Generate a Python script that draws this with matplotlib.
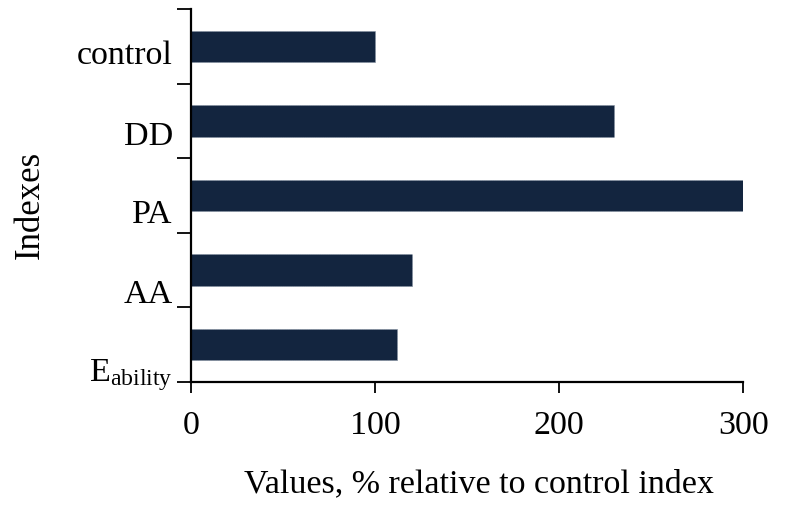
import matplotlib
matplotlib.use("Agg")
import matplotlib.pyplot as plt
import matplotlib.transforms as mtransforms
import numpy as np

# data (bottom to top)
categories = [r"E$_{\mathregular{ability}}$", "AA", "PA", "DD", "control"]
values = [112, 120, 300, 230, 100]
xticks = [0, 100, 200, 300]

# layout: downward shift of each category label in pixels (as in the original)
label_shift_px = [23, 20, 15, 11, 5]

plt.rcParams['font.family'] = ['Liberation Serif', 'DejaVu Serif']
plt.rcParams['mathtext.fontset'] = 'custom'
plt.rcParams['mathtext.rm'] = 'Liberation Serif'
plt.rcParams['mathtext.it'] = 'Liberation Serif:italic'

fig = plt.figure(figsize=(7.98, 5.10), dpi=100)
ax = fig.add_axes([191/798, 1-383/510, (743.3-191)/798, (383-10)/510])

y = np.arange(len(categories))
ax.barh(y, values, height=0.42, color='#13253f', edgecolor='#7f8ea0',
        linewidth=0.6, linestyle=':')

ax.set_xlim(0, 300)
ax.set_ylim(-0.5, len(categories) - 0.5)
ax.set_xticks(xticks)
ax.set_xticklabels([str(t) for t in xticks], fontsize=24.5)
ax.tick_params(axis='x', direction='out', length=8, width=1.3, pad=12, colors='black')

ax.set_yticks(y)
ax.set_yticklabels(categories, fontsize=24.5)
ax.set_yticks(np.arange(-0.5, len(categories)), minor=True)
ax.tick_params(axis='y', which='major', length=0, pad=13)
ax.tick_params(axis='y', which='minor', direction='out', length=10, width=1.3)

for lab, sh in zip(ax.get_yticklabels(), label_shift_px):
    lab.set_transform(lab.get_transform() +
                      mtransforms.ScaledTranslation(0, -sh / 100, fig.dpi_scale_trans))

for s in ['top', 'right']:
    ax.spines[s].set_visible(False)
for s in ['left', 'bottom']:
    ax.spines[s].set_linewidth(1.6)

ax.set_xlabel("Values, % relative to control index", fontsize=24.5, labelpad=20)
ax.xaxis.label.set_position((0.522, 0))
ax.set_ylabel("Indexes", fontsize=25)
ax.yaxis.set_label_coords(-0.262, 0.477)

fig.savefig("out.png", dpi=100)
